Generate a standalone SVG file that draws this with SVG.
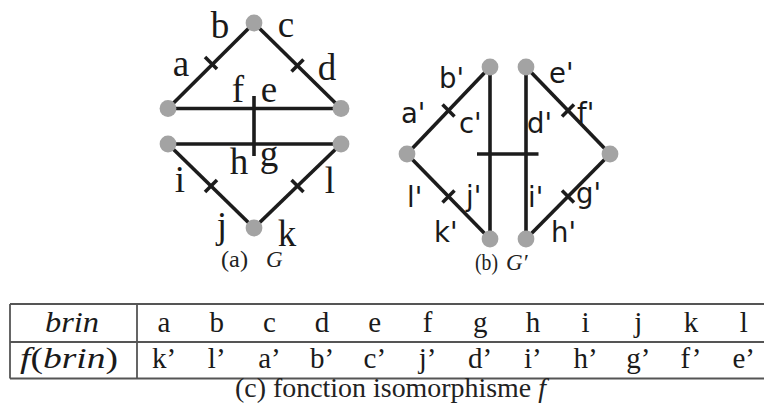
<svg xmlns="http://www.w3.org/2000/svg" width="764" height="403" viewBox="0 0 764 403">
<style>
.e{stroke:#1c1c1c;stroke-width:3.6;fill:none;stroke-linecap:butt}
.v{fill:#a3a3a3}
.ls{font-family:"Liberation Serif","Times New Roman",serif;font-size:37px;fill:#1a1a1a;text-anchor:middle}
.lb{font-family:"DejaVu Sans",sans-serif;font-size:27.5px;fill:#1a1a1a}
.cap{font-family:"Liberation Serif","Times New Roman",serif;font-size:23px;fill:#222}
.it{font-style:italic}
.tl{stroke:#555;stroke-width:1.8;fill:none}
.tt{font-family:"Liberation Serif","Times New Roman",serif;font-size:29px;fill:#1a1a1a;text-anchor:middle}
</style>
<rect width="764" height="403" fill="#fff"/>
<g id="connectors">
  <!-- graph G -->
  <line class="e" x1="254" y1="23" x2="168" y2="108.5"/>
  <line class="e" x1="205" y1="57" x2="217" y2="69"/>
  <line class="e" x1="254" y1="23" x2="341" y2="108.5"/>
  <line class="e" x1="291.5" y1="71.5" x2="303.5" y2="59.5"/>
  <line class="e" x1="168" y1="108.5" x2="341" y2="108.5"/>
  <line class="e" x1="168" y1="144" x2="341" y2="144"/>
  <line class="e" x1="254" y1="96" x2="254" y2="156"/>
  <line class="e" x1="168" y1="144" x2="254" y2="228"/>
  <line class="e" x1="205" y1="192" x2="217" y2="180"/>
  <line class="e" x1="341" y1="144" x2="254" y2="228"/>
  <line class="e" x1="291.5" y1="180" x2="303.5" y2="192"/>
  <!-- graph G' -->
  <line class="e" x1="407" y1="154" x2="490" y2="67"/>
  <line class="e" x1="442.5" y1="104.5" x2="454.5" y2="116.5"/>
  <line class="e" x1="407" y1="154" x2="490" y2="239"/>
  <line class="e" x1="442.5" y1="202.5" x2="454.5" y2="190.5"/>
  <line class="e" x1="490" y1="67" x2="490" y2="239"/>
  <line class="e" x1="526" y1="67" x2="526" y2="239"/>
  <line class="e" x1="477" y1="154" x2="538.5" y2="154"/>
  <line class="e" x1="610" y1="154" x2="526" y2="67"/>
  <line class="e" x1="562" y1="116.5" x2="574" y2="104.5"/>
  <line class="e" x1="610" y1="154" x2="526" y2="239"/>
  <line class="e" x1="562" y1="190.5" x2="574" y2="202.5"/>
</g>
<g id="G">
  <g id="gT"><circle class="v" cx="254" cy="23" r="8.4"/></g>
  <g id="gLT"><circle class="v" cx="168" cy="108.5" r="8.4"/></g>
  <g id="gRT"><circle class="v" cx="341" cy="108.5" r="8.4"/></g>
  <g id="gLB"><circle class="v" cx="168" cy="144" r="8.4"/></g>
  <g id="gRB"><circle class="v" cx="341" cy="144" r="8.4"/></g>
  <g id="gB"><circle class="v" cx="254" cy="228" r="8.4"/></g>
  <g id="G-labels">
    <text class="ls" x="220" y="38">b</text>
    <text class="ls" x="286" y="37">c</text>
    <text class="ls" x="181" y="76">a</text>
    <text class="ls" x="327" y="80">d</text>
    <text class="ls" x="238" y="102">f</text>
    <text class="ls" x="269" y="102">e</text>
    <text class="ls" x="239" y="174">h</text>
    <text class="ls" x="269" y="166">g</text>
    <text class="ls" x="180" y="192">i</text>
    <text class="ls" x="330" y="193">l</text>
    <text class="ls" x="222" y="238">j</text>
    <text class="ls" x="287" y="246">k</text>
  </g>
  <text class="cap" x="221" y="267" textLength="27" lengthAdjust="spacingAndGlyphs">(a)</text>
  <text class="cap it" x="266" y="267">G</text>
</g>
<g id="Gp">
  <g id="pTL"><circle class="v" cx="490" cy="67" r="8.4"/></g>
  <g id="pTR"><circle class="v" cx="526" cy="67" r="8.4"/></g>
  <g id="pL"><circle class="v" cx="407" cy="154" r="8.4"/></g>
  <g id="pR"><circle class="v" cx="610" cy="154" r="8.4"/></g>
  <g id="pBL"><circle class="v" cx="490" cy="239" r="8.4"/></g>
  <g id="pBR"><circle class="v" cx="526" cy="239" r="8.4"/></g>
  <g id="Gp-labels">
    <text class="lb" x="439" y="88">b'</text>
    <text class="lb" x="401" y="123">a'</text>
    <text class="lb" x="459" y="133">c'</text>
    <text class="lb" x="549" y="83">e'</text>
    <text class="lb" x="527" y="133">d'</text>
    <text class="lb" x="577" y="123">f'</text>
    <text class="lb" x="407" y="207">l'</text>
    <text class="lb" x="466" y="206">j'</text>
    <text class="lb" x="528" y="207">i'</text>
    <text class="lb" x="576" y="203">g'</text>
    <text class="lb" x="434" y="242">k'</text>
    <text class="lb" x="551" y="242">h'</text>
  </g>
  <text class="cap" x="475" y="270" textLength="23" lengthAdjust="spacingAndGlyphs">(b)</text>
  <text class="cap it" x="506" y="270">G′</text>
</g>
<g id="table">
  <line class="tl" x1="10" y1="304" x2="764" y2="304"/>
  <line class="tl" x1="10" y1="342" x2="764" y2="342"/>
  <line class="tl" x1="10" y1="378.5" x2="764" y2="378.5"/>
  <line class="tl" x1="10" y1="304" x2="10" y2="378.5"/>
  <line class="tl" x1="137" y1="304" x2="137" y2="378.5"/>
  <text class="tt it" x="72" y="332" textLength="54" lengthAdjust="spacingAndGlyphs">brin</text>
  <text class="tt" x="69" y="368" textLength="98" lengthAdjust="spacingAndGlyphs"><tspan class="it">f</tspan>(<tspan class="it">brin</tspan>)</text>
  <g id="row1">
    <text class="tt" x="164" y="332">a</text>
    <text class="tt" x="216.7" y="332">b</text>
    <text class="tt" x="269.4" y="332">c</text>
    <text class="tt" x="322.1" y="332">d</text>
    <text class="tt" x="374.8" y="332">e</text>
    <text class="tt" x="427.5" y="332">f</text>
    <text class="tt" x="480.2" y="332">g</text>
    <text class="tt" x="532.9" y="332">h</text>
    <text class="tt" x="585.6" y="332">i</text>
    <text class="tt" x="638.3" y="332">j</text>
    <text class="tt" x="691" y="332">k</text>
    <text class="tt" x="743.7" y="332">l</text>
  </g>
  <g id="row2">
    <text class="tt" x="164" y="368">k’</text>
    <text class="tt" x="216.7" y="368">l’</text>
    <text class="tt" x="269.4" y="368">a’</text>
    <text class="tt" x="322.1" y="368">b’</text>
    <text class="tt" x="374.8" y="368">c’</text>
    <text class="tt" x="427.5" y="368">j’</text>
    <text class="tt" x="480.2" y="368">d’</text>
    <text class="tt" x="532.9" y="368">i’</text>
    <text class="tt" x="585.6" y="368">h’</text>
    <text class="tt" x="638.3" y="368">g’</text>
    <text class="tt" x="691" y="368">f’</text>
    <text class="tt" x="743.7" y="368">e’</text>
  </g>
  <text x="235" y="397" textLength="311" lengthAdjust="spacingAndGlyphs" style="font-family:'Liberation Serif','Times New Roman',serif;font-size:27px;fill:#222">(c)  fonction isomorphisme <tspan class="it">f</tspan></text>
</g>
</svg>
